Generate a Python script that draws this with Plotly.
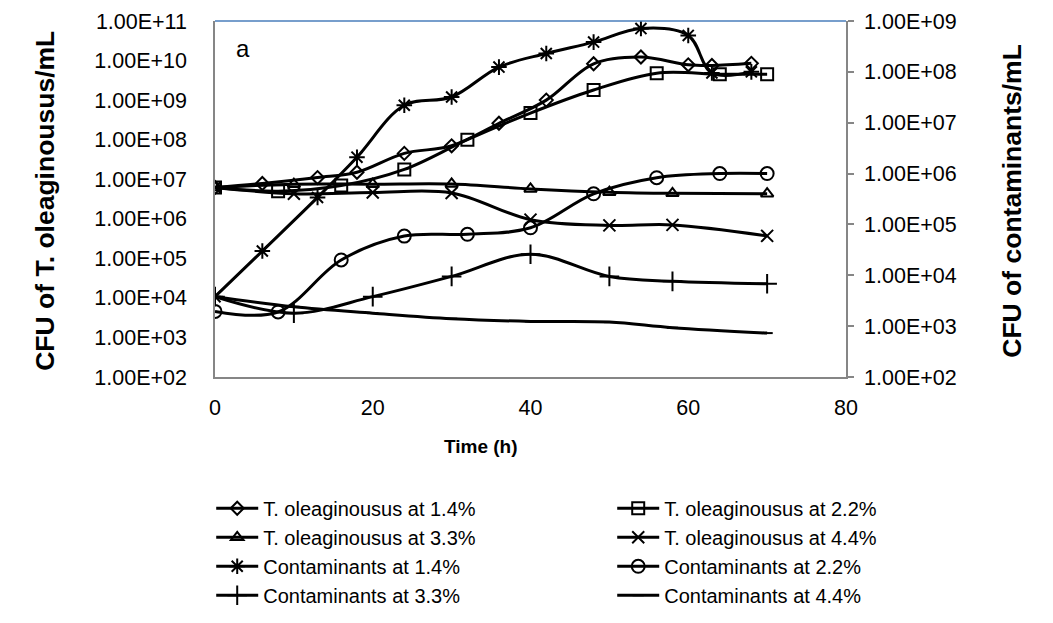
import plotly.graph_objects as go

# Sampling times (h) for each inoculum level
time_14 = [0, 6, 13, 18, 24, 30, 36, 42, 48, 54, 60, 63, 68]
time_22 = [0, 8, 16, 24, 32, 40, 48, 56, 64, 70]
time_33 = [0, 10, 20, 30, 40, 50, 58, 70]
time_44 = [0, 10, 20, 30, 40, 50, 58, 70]

# T. oleaginousus counts (CFU/mL, left axis)
tole_14 = [6.2e6, 7.8e6, 1.1e7, 1.5e7, 4.5e7, 7.0e7, 2.6e8, 1.0e9, 8.3e9, 1.23e10, 7.8e9, 7.5e9, 8.5e9]
tole_22 = [6.2e6, 5.0e6, 6.9e6, 1.77e7, 1.0e8, 4.7e8, 1.8e9, 4.8e9, 4.5e9, 4.5e9]
tole_33 = [6.2e6, 7.5e6, 7.5e6, 7.6e6, 5.7e6, 4.7e6, 4.4e6, 4.3e6]
tole_44 = [6.2e6, 4.3e6, 4.6e6, 4.5e6, 9.5e5, 6.8e5, 7.0e5, 3.7e5]

# Contaminant counts (CFU/mL, right axis)
cont_14 = [3.8e3, 3.0e4, 3.4e5, 2.1e6, 2.2e7, 3.2e7, 1.24e8, 2.3e8, 3.85e8, 7.1e8, 5.2e8, 9.5e7, 1.0e8]
cont_22 = [1.95e3, 1.9e3, 2.0e4, 5.9e4, 6.4e4, 8.6e4, 4.0e5, 8.3e5, 1.0e6, 1.0e6]
cont_33 = [3.8e3, 1.8e3, 3.8e3, 9.5e3, 2.6e4, 9.5e3, 7.6e3, 6.8e3]
cont_44 = [3.8e3, 2.4e3, 1.8e3, 1.4e3, 1.24e3, 1.2e3, 9.3e2, 7.3e2]

series_names = [
    "T. oleaginousus at 1.4%", "T. oleaginousus at 2.2%",
    "T. oleaginousus at 3.3%", "T. oleaginousus at 4.4%",
    "Contaminants at 1.4%", "Contaminants at 2.2%",
    "Contaminants at 3.3%", "Contaminants at 4.4%",
]

# Axis tick labels
x_ticks = [0, 20, 40, 60, 80]
left_tickvals = [1e2, 1e3, 1e4, 1e5, 1e6, 1e7, 1e8, 1e9, 1e10, 1e11]
left_ticktext = ["1.00E+02", "1.00E+03", "1.00E+04", "1.00E+05", "1.00E+06",
                 "1.00E+07", "1.00E+08", "1.00E+09", "1.00E+10", "1.00E+11"]
right_tickvals = [1e2, 1e3, 1e4, 1e5, 1e6, 1e7, 1e8, 1e9]
right_ticktext = ["1.00E+02", "1.00E+03", "1.00E+04", "1.00E+05",
                  "1.00E+06", "1.00E+07", "1.00E+08", "1.00E+09"]

FONT = "Arial, Liberation Sans, sans-serif"

traces = [
    (time_14, tole_14, "diamond-open", 10, "y"),
    (time_22, tole_22, "square-open", 12, "y"),
    (time_33, tole_33, "triangle-up-open", 11, "y"),
    (time_44, tole_44, "x-thin-open", 12, "y"),
    (time_14, cont_14, "asterisk-open", 13, "y2"),
    (time_22, cont_22, "circle-open", 13, "y2"),
    (time_33, cont_33, "cross-thin-open", 14, "y2"),
    (time_44, cont_44, "line-ew-open", 8, "y2"),
]

fig = go.Figure()
for (t, v, sym, size, ax), name in zip(traces, series_names):
    fig.add_trace(go.Scatter(
        x=t, y=v, name=name, yaxis=ax,
        mode="lines+markers",
        line=dict(color="black", width=3, shape="spline", smoothing=1),
        marker=dict(symbol=sym, size=size, color="black",
                    line=dict(color="black", width=2)),
    ))

fig.update_layout(
    width=1053, height=623,
    margin=dict(l=215, r=207, t=21, b=246, autoexpand=False),
    paper_bgcolor="white", plot_bgcolor="white",
    font=dict(family=FONT, color="black", size=22),
    showlegend=True,
    legend=dict(
        orientation="h", x=-0.006, xanchor="left", y=-0.314, yanchor="top",
        itemwidth=42, entrywidth=344, entrywidthmode="pixels",
        font=dict(family=FONT, size=20, color="black"),
        bgcolor="rgba(0,0,0,0)",
    ),
    xaxis=dict(
        range=[0, 80], tickvals=x_ticks, showgrid=False, zeroline=False,
        showline=True, linecolor="#868686", linewidth=1.5, ticks="",
        tickfont=dict(size=21.5), ticklabelstandoff=10,
    ),
    yaxis=dict(
        type="log", range=[2, 11], tickvals=left_tickvals, ticktext=left_ticktext,
        showgrid=False, zeroline=False, showline=True, linecolor="#868686",
        linewidth=1.5, ticks="", tickfont=dict(size=21.5), ticklabelstandoff=22,
    ),
    yaxis2=dict(
        type="log", range=[2, 9], tickvals=right_tickvals, ticktext=right_ticktext,
        overlaying="y", side="right", showgrid=False, zeroline=False,
        showline=True, linecolor="#868686", linewidth=1.5,
        ticks="outside", ticklen=6, tickcolor="#868686", tickwidth=1.5,
        tickfont=dict(size=21.5), ticklabelstandoff=6,
    ),
    shapes=[dict(type="line", xref="paper", yref="paper", x0=0, x1=1, y0=1, y1=1,
                 line=dict(color="#4A7EBB", width=1.5))],
    annotations=[
        dict(text="<b>CFU of T. oleaginousus/mL</b>", xref="paper", yref="paper",
             x=-0.2694, y=0.495, textangle=-90, showarrow=False,
             font=dict(size=26.5), xanchor="center", yanchor="middle"),
        dict(text="<b>CFU of contaminants/mL</b>", xref="paper", yref="paper",
             x=1.263, y=0.495, textangle=-90, showarrow=False,
             font=dict(size=26.5), xanchor="center", yanchor="middle"),
        dict(text="<b>Time (h)</b>", xref="paper", yref="paper",
             x=0.4216, y=-0.194, showarrow=False, font=dict(size=19),
             xanchor="center", yanchor="middle"),
        dict(text="a", xref="paper", yref="paper", x=0.0444, y=0.924,
             showarrow=False, font=dict(size=24), xanchor="center", yanchor="middle"),
    ],
)

fig.write_html("out.html")
